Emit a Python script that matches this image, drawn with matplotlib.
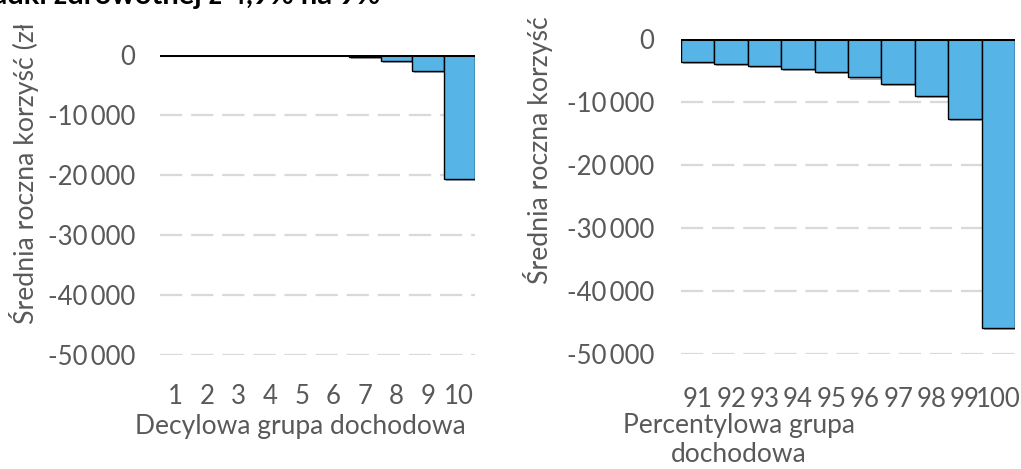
import matplotlib
matplotlib.use("Agg")
import matplotlib.pyplot as plt
from matplotlib.transforms import Bbox, TransformedBbox
from matplotlib import patheffects as pe

plt.rcParams['font.family'] = ['Lato', 'DejaVu Sans']

# Average annual gain (PLN) by income group
deciles = ['1', '2', '3', '4', '5', '6', '7', '8', '9', '10']
decile_values = [-60, -50, -50, -60, -20, -30, -250, -1000, -2700, -20600]

percentiles = ['91', '92', '93', '94', '95', '96', '97', '98', '99', '100']
percentile_values = [-3700, -4000, -4300, -4700, -5200, -6100, -7200, -9000, -12750, -45800]

y_ticks = [0, -10000, -20000, -30000, -40000, -50000]
y_tick_labels = ['0', '-10\u2009000', '-20\u2009000', '-30\u2009000', '-40\u2009000', '-50\u2009000']

title_text = 'Podwyższenie stawki składki zdrowotnej z 4,9% na 9%'
y_label = 'Średnia roczna korzyść (zł)'
x_label_left = 'Decylowa grupa dochodowa'
x_label_right = 'Percentylowa grupa\ndochodowa'

W, H = 1021, 469
fig = plt.figure(figsize=(W / 100, H / 100), dpi=100)

BAR = '#56B4E6'
TXT = '#595959'
FS_TICK = 18.5
FS_XLAB = 19
FS_YLAB = 19.2


def px_axes(x0, x1, ytop, ybot):
    return fig.add_axes([x0 / W, 1 - ybot / H, (x1 - x0) / W, (ybot - ytop) / H])


def draw_panel(ax, cats, vals, ypad, xpad):
    x = list(range(len(cats)))
    ax.bar(x, vals, width=1.0, color=BAR, edgecolor='black', linewidth=1.0, zorder=3,
           path_effects=[pe.SimplePatchShadow(offset=(1.5, -1.5), shadow_rgbFace='#555555', alpha=0.5),
                         pe.Normal()])
    for t in y_ticks[1:]:
        ax.axhline(t, color='#d9d9d9', lw=1.6, dashes=(10, 4), zorder=1)
    ax.axhline(0, color='black', lw=2.2, zorder=5)
    ax.set_xlim(-0.5, len(cats) - 0.5)
    ax.set_ylim(-50000, 0)
    ax.set_yticks(y_ticks)
    ax.set_yticklabels(y_tick_labels)
    ax.set_xticks(x)
    ax.set_xticklabels(cats)
    ax.tick_params(axis='both', length=0, labelsize=FS_TICK, labelcolor=TXT)
    ax.tick_params(axis='y', pad=ypad)
    ax.tick_params(axis='x', pad=xpad)
    for s in ax.spines.values():
        s.set_visible(False)
    ax.set_facecolor('none')


ax1 = px_axes(160, 475, 55, 355)
draw_panel(ax1, deciles, decile_values, 18, 21)

ax2 = px_axes(681, 1015, 39, 354)
draw_panel(ax2, percentiles, percentile_values, 19, 24)

# axis titles
fig.text(300 / W, 1 - 434 / H, x_label_left, ha='center', va='baseline',
         fontsize=FS_XLAB, color=TXT)
fig.text(739 / W, 1 - 462 / H, x_label_right, ha='center', va='baseline', fontsize=FS_XLAB,
         color=TXT, linespacing=1.2, multialignment='center')

t1 = fig.text(24 / W, 1 - 324 / H, y_label, rotation=90, ha='center', va='bottom',
              fontsize=FS_YLAB, color=TXT)
t1.set_clip_box(TransformedBbox(Bbox([[0, 0], [0.3, 1 - 25 / H]]), fig.transFigure))
t1.set_clip_on(True)

t2 = fig.text(538 / W, 1 - 284 / H, y_label, rotation=90, ha='center', va='bottom',
              fontsize=FS_YLAB, color=TXT)
t2.set_clip_box(TransformedBbox(Bbox([[0.4, 0], [0.6, 1 - 10 / H]]), fig.transFigure))
t2.set_clip_on(True)

# heading running off the top edge
fig.text(380 / W, 1 - 4 / H, title_text, ha='right', va='baseline', fontsize=21,
         fontweight='bold', color='black')

fig.savefig('out.png', dpi=100)
